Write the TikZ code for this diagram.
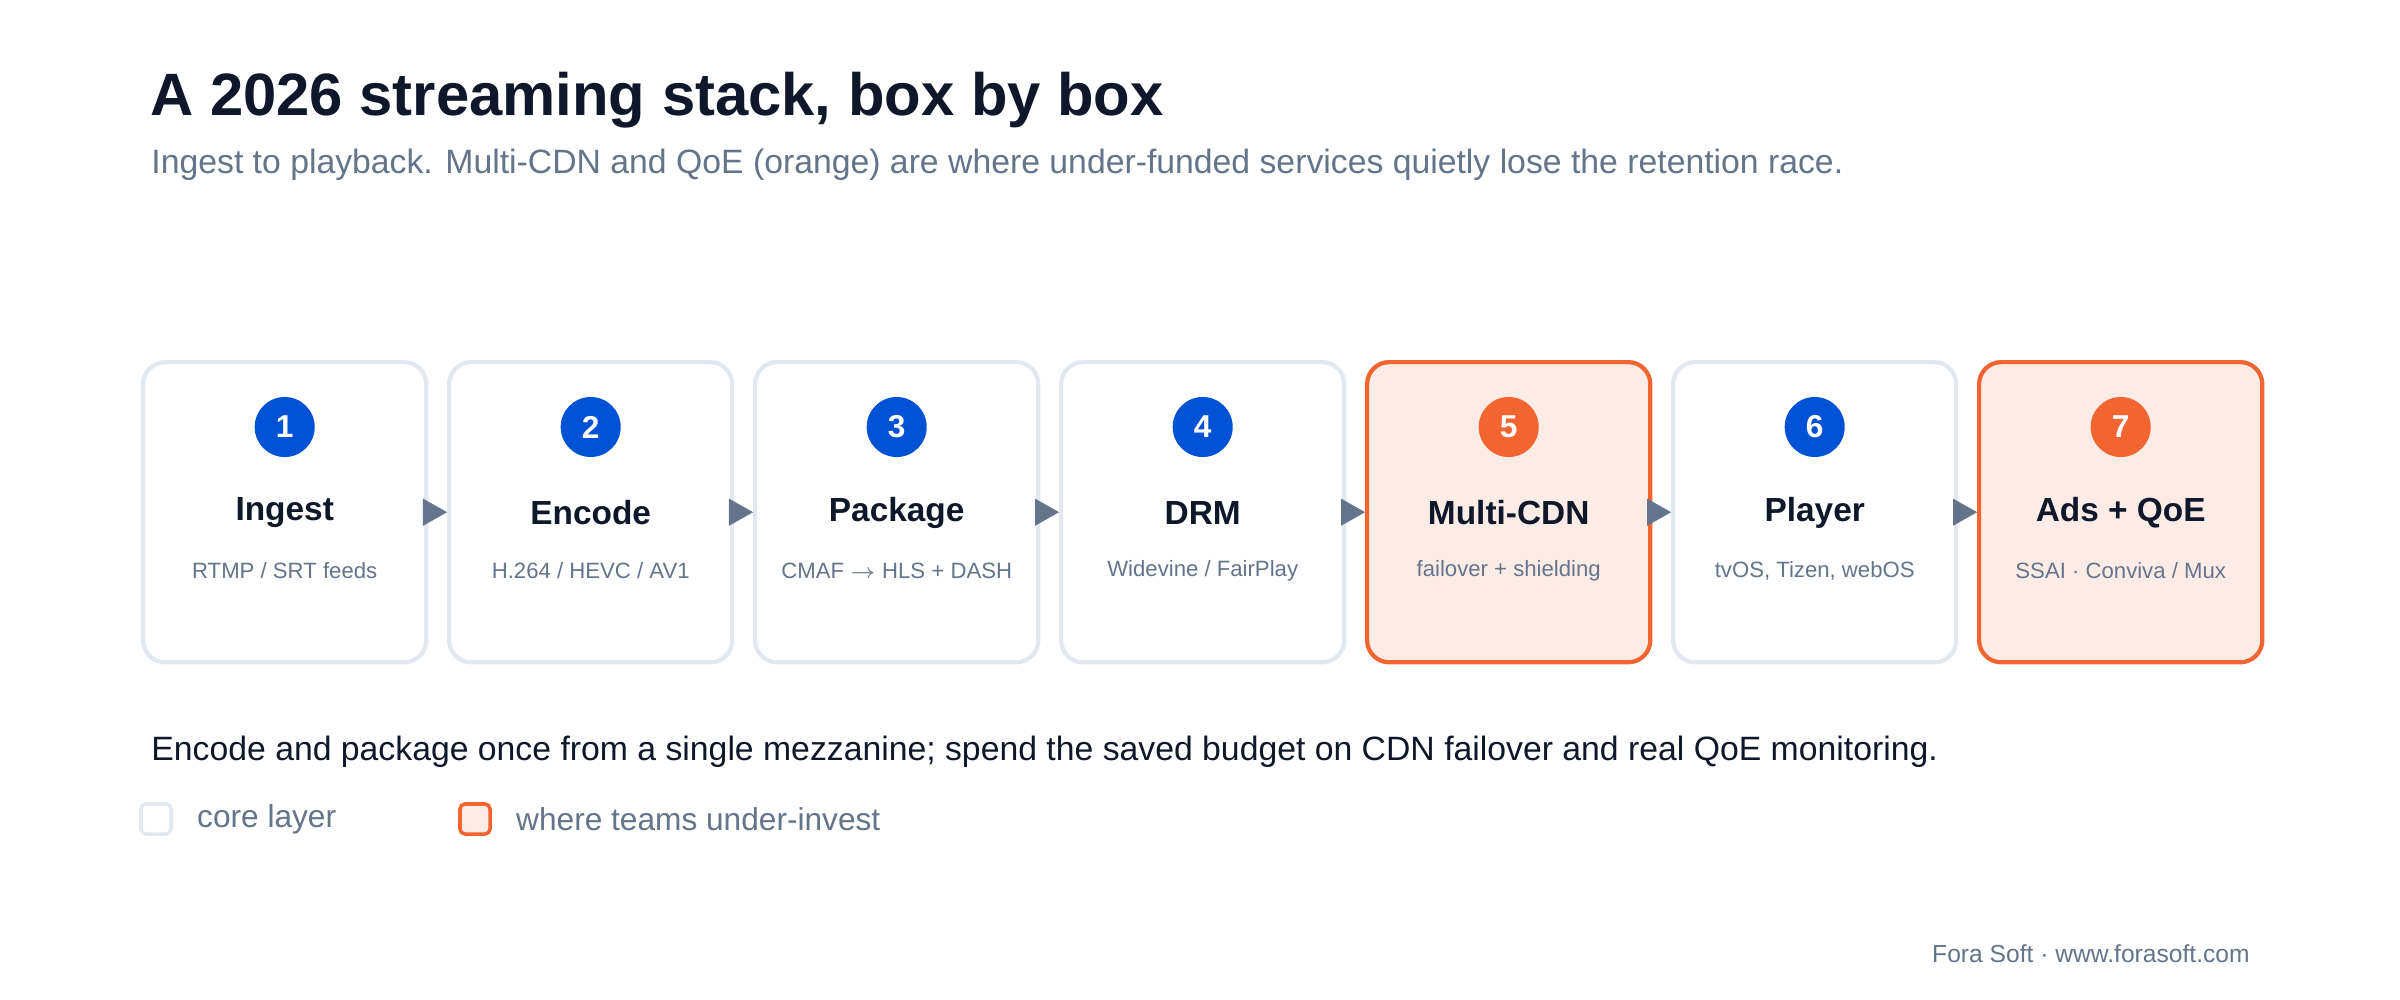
\documentclass[tikz,border=0pt]{standalone}
\usepackage{fontspec}
\setmainfont{Liberation Sans}
\usetikzlibrary{positioning,arrows.meta,calc}
\definecolor{ink}{HTML}{0F172A}
\definecolor{slate}{HTML}{64748B}
\definecolor{edge}{HTML}{E2E8F0}
\definecolor{coreblue}{HTML}{0052D4}
\definecolor{hot}{HTML}{F26430}
\definecolor{hotfill}{HTML}{FDECE6}
\begin{document}
\begin{tikzpicture}[x=0.01cm, y=-0.01cm,
  core box/.style={draw=edge, line width=1.2pt, fill=white, rounded corners=0.22cm,
    minimum width=2.83cm, minimum height=3cm, anchor=north west},
  hot box/.style={core box, draw=hot, fill=hotfill},
  badge/.style={circle, fill=#1, text=white, minimum size=0.6cm, inner sep=0pt,
    font=\bfseries\fontsize{9}{10}\selectfont},
  box title/.style={text=ink, font=\bfseries\fontsize{9.5}{11}\selectfont},
  box sub/.style={text=slate, font=\fontsize{6.3}{8}\selectfont},
  flow/.style={draw=slate, line width=0.1pt, -{Triangle[length=0.24cm,width=0.27cm]}, shorten <=-0.01cm}]

\useasboundingbox[fill=white] (0,0) rectangle (2400,1000);

\node[anchor=base west, text=ink, font=\bfseries\fontsize{17}{20}\selectfont] (title) at (138,115) {A 2026 streaming stack, box by box};
\node[anchor=base west, text=slate, font=\fontsize{9.6}{12}\selectfont] (lead) at (139,173) {Ingest to playback. Multi-CDN and QoE (orange) are where under-funded services quietly lose the retention race.};

% the seven stages
\foreach \i/\kind/\tone/\name/\detail in {
  1/core/coreblue/Ingest/{RTMP / SRT feeds},
  2/core/coreblue/Encode/{H.264 / HEVC / AV1},
  3/core/coreblue/Package/{CMAF $\rightarrow$ HLS + DASH},
  4/core/coreblue/DRM/{Widevine / FairPlay},
  5/hot/hot/Multi-CDN/{failover + shielding},
  6/core/coreblue/Player/{tvOS, Tizen, webOS},
  7/hot/hot/Ads + QoE/{SSAI · Conviva / Mux}} {
  \node[\kind\space box] (b\i) at ({141+(\i-1)*306},360) {};
  \node[badge=\tone] (n\i) at ($(b\i.north)+(0,67)$) {\i};
  \node[box title] (t\i) at ($(b\i.north)+(0,153)$) {\name};
  \node[box sub] (s\i) at ($(b\i.north)+(0,211)$) {\detail};
}

\foreach \i [evaluate=\i as \j using int(\i+1)] in {1,...,6}
  \draw[flow] (b\i.east) -- (b\j.west);

\node[anchor=base west, text=ink, font=\fontsize{9.6}{12}\selectfont] (note) at (139,760) {Encode and package once from a single mezzanine; spend the saved budget on CDN failover and real QoE monitoring.};

% legend
\node[draw=edge, fill=white, line width=1pt, rounded corners=0.05cm, minimum size=0.3cm, inner sep=0pt] (key1) at (156,819) {};
\node[right=0.12cm of key1, text=slate, font=\fontsize{9}{11}\selectfont] (lab1) {core layer};
\node[draw=hot, fill=hotfill, line width=1pt, rounded corners=0.05cm, minimum size=0.3cm, inner sep=0pt] (key2) at (475,819) {};
\node[right=0.12cm of key2, text=slate, font=\fontsize{9}{11}\selectfont] (lab2) {where teams under-invest};

\node[anchor=base east, text=slate, font=\fontsize{7}{9}\selectfont] (foot) at (2262,962) {Fora Soft · www.forasoft.com};
\end{tikzpicture}
\end{document}
